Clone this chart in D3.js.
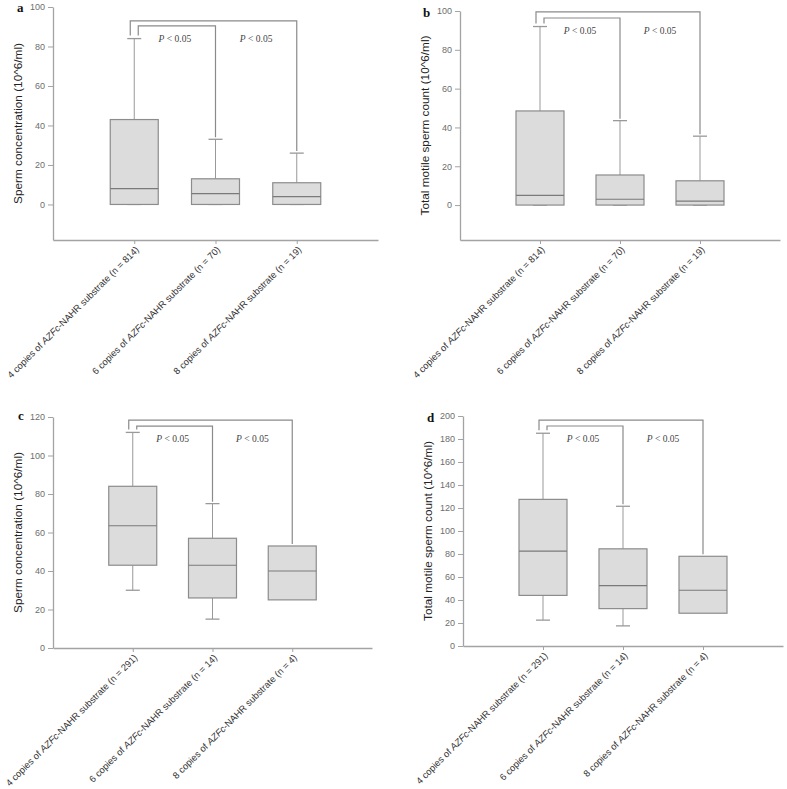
<!DOCTYPE html>
<html><head><meta charset="utf-8">
<script src="https://cdn.jsdelivr.net/npm/d3@7"></script>
<style>body{margin:0;background:#fff}svg{display:block}
.sans{font-family:"Liberation Sans",Arial,Helvetica,sans-serif}
.serif{font-family:"Liberation Serif","Times New Roman",Times,serif}
</style>
</head><body>
<svg id="c" width="787" height="789"></svg>
<script>
// ---- data ----
const copies = [4, 6, 8];
const nTop = [814, 70, 19];      // panels a, b
const nBottom = [291, 14, 4];    // panels c, d
// box stats: [min, q1, median, q3, max]; null whiskers = none shown
const boxA = [[0, 0, 8, 43, 84], [0, 0, 5.5, 13, 33], [0, 0, 4, 11, 26]];
const boxB = [[0, 0, 5, 48.5, 92], [0, 0, 3, 15.5, 43.5], [0, 0, 2, 12.5, 35.5]];
const boxC = [[30, 43, 63.5, 84, 112], [15, 26, 43, 57, 75], [null, 25, 40, 53, null]];
const boxD = [[22.5, 44, 82.5, 127.5, 185], [17.5, 32.5, 52.5, 84.5, 121.5], [null, 28.5, 48.5, 78, null]];
const yTicksA = [0, 20, 40, 60, 80, 100];
const yTicksC = [0, 20, 40, 60, 80, 100, 120];
const yTicksD = [0, 20, 40, 60, 80, 100, 120, 140, 160, 180, 200];
const yTitles = ["Sperm concentration (10^6/ml)", "Total motile sperm count (10^6/ml)",
                 "Sperm concentration (10^6/ml)", "Total motile sperm count (10^6/ml)"];
const panelLetters = ["a", "b", "c", "d"];
const bracketOuter = [93, 99.5, 118.4, 196.5];
const bracketInner = [90.4, 96.4, 115.3, 191.3];
const pLabel = "< 0.05";

// ---- layout ----
const panels = [
  {box: boxA, n: nTop, ticks: yTicksA, dom: [-18, 100], x: [53, 378], y: [240, 7], lx: 17, ly: 12},
  {box: boxB, n: nTop, ticks: yTicksA, dom: [-18, 100], x: [460, 780], y: [240, 11], lx: 423, ly: 17},
  {box: boxC, n: nBottom, ticks: yTicksC, dom: [0, 120], x: [53, 372], y: [648, 417], lx: 18, ly: 420},
  {box: boxD, n: nBottom, ticks: yTicksD, dom: [0, 200], x: [463, 783], y: [646, 416], lx: 427, ly: 422}
];

const svg = d3.select("#c");
const axisCol = "#a3a3a3", boxStroke = "#8c8c8c", boxFill = "#dcdcdc", medCol = "#7a7a7a",
      whiskCol = "#999", brCol = "#8a8a8a";
const BW = 48, CAP = 14;

panels.forEach((p, pi) => {
  const g = svg.append("g");
  const x = d3.scalePoint().domain(copies).range(p.x).padding(1);
  const y = d3.scaleLinear().domain(p.dom).range(p.y);

  // y axis
  const ya = g.append("g").attr("transform", `translate(${p.x[0]},0)`)
    .call(d3.axisLeft(y).tickValues(p.ticks).tickSize(5).tickSizeOuter(0).tickPadding(3));
  ya.attr("font-family", null).attr("font-size", null);
  ya.select(".domain").attr("stroke", axisCol).attr("stroke-width", 1.3);
  ya.selectAll(".tick line").attr("stroke", axisCol);
  ya.selectAll(".tick text").attr("fill", "#6d6d6d").attr("class", "sans").attr("font-size", 9);

  // x axis
  const xa = g.append("g").attr("transform", `translate(0,${p.y[0]})`)
    .call(d3.axisBottom(x).tickSize(4).tickSizeOuter(0).tickFormat(""));
  xa.select(".domain").attr("stroke", axisCol).attr("stroke-width", 1.3);
  xa.selectAll(".tick line").attr("stroke", axisCol);

  // x labels
  copies.forEach((c, i) => {
    const t = g.append("text")
      .attr("class", "sans")
      .attr("transform", `translate(${x(c) + 3},${p.y[0] + 8}) rotate(-45)`)
      .attr("text-anchor", "end").attr("dy", "0.35em")
      .attr("fill", "#333").attr("font-size", 9.4);
    t.append("tspan").text(`${c} copies of `);
    t.append("tspan").attr("font-style", "italic").text("AZFc");
    t.append("tspan").text(`-NAHR substrate (n = ${p.n[i]})`);
  });

  // y title
  g.append("text")
    .attr("class", "sans")
    .attr("transform", `translate(${p.x[0] - 31},${(p.y[0] + p.y[1]) / 2}) rotate(-90)`)
    .attr("text-anchor", "middle")
    .attr("fill", "#222").attr("font-size", 11.8)
    .text(yTitles[pi]);

  // panel letter
  g.append("text")
    .attr("class", "serif")
    .attr("x", p.lx).attr("y", p.ly)
    .attr("fill", "#111").attr("font-weight", "bold").attr("font-size", 13)
    .text(panelLetters[pi]);

  // boxes
  p.box.forEach((b, i) => {
    const cx = x(copies[i]);
    const [mn, q1, md, q3, mx] = b;
    if (mx != null) {
      g.append("line").attr("x1", cx).attr("x2", cx).attr("y1", y(q3)).attr("y2", y(mx)).attr("stroke", whiskCol);
      g.append("line").attr("x1", cx - CAP / 2).attr("x2", cx + CAP / 2).attr("y1", y(mx)).attr("y2", y(mx)).attr("stroke", whiskCol).attr("stroke-width", 1.3);
    }
    if (mn != null) {
      g.append("line").attr("x1", cx).attr("x2", cx).attr("y1", y(q1)).attr("y2", y(mn)).attr("stroke", whiskCol);
      g.append("line").attr("x1", cx - CAP / 2).attr("x2", cx + CAP / 2).attr("y1", y(mn)).attr("y2", y(mn)).attr("stroke", whiskCol).attr("stroke-width", 1.3);
    }
    g.append("rect").attr("x", cx - BW / 2).attr("width", BW)
      .attr("y", y(q3)).attr("height", y(q1) - y(q3))
      .attr("fill", boxFill).attr("stroke", boxStroke).attr("stroke-width", 1.2);
    g.append("line").attr("x1", cx - BW / 2).attr("x2", cx + BW / 2).attr("y1", y(md)).attr("y2", y(md))
      .attr("stroke", medCol).attr("stroke-width", 1.2);
  });

  // brackets
  const topOf = b => y(b[4] != null ? b[4] : b[3]);
  const c0 = x(copies[0]), c1 = x(copies[1]), c2 = x(copies[2]);
  const yO = y(bracketOuter[pi]), yI = y(bracketInner[pi]);
  const l0 = topOf(p.box[0]) - 3;
  g.append("path").attr("fill", "none").attr("stroke", brCol).attr("stroke-width", 1.2)
    .attr("d", `M${c0 - 4},${l0}V${yO}H${c2}V${topOf(p.box[2]) - 2}`);
  g.append("path").attr("fill", "none").attr("stroke", brCol).attr("stroke-width", 1.2)
    .attr("d", `M${c0 + 4},${l0}V${yI}H${c1}V${topOf(p.box[1]) - 2}`);

  [[c0, c1], [c1, c2]].forEach(([a, b]) => {
    const t = g.append("text").attr("class", "serif")
      .attr("x", (a + b) / 2).attr("y", yI + 16)
      .attr("text-anchor", "middle").attr("fill", "#444").attr("font-size", 9.5);
    t.append("tspan").attr("font-style", "italic").text("P");
    t.append("tspan").text(" " + pLabel);
  });
});
</script>
</body></html>
